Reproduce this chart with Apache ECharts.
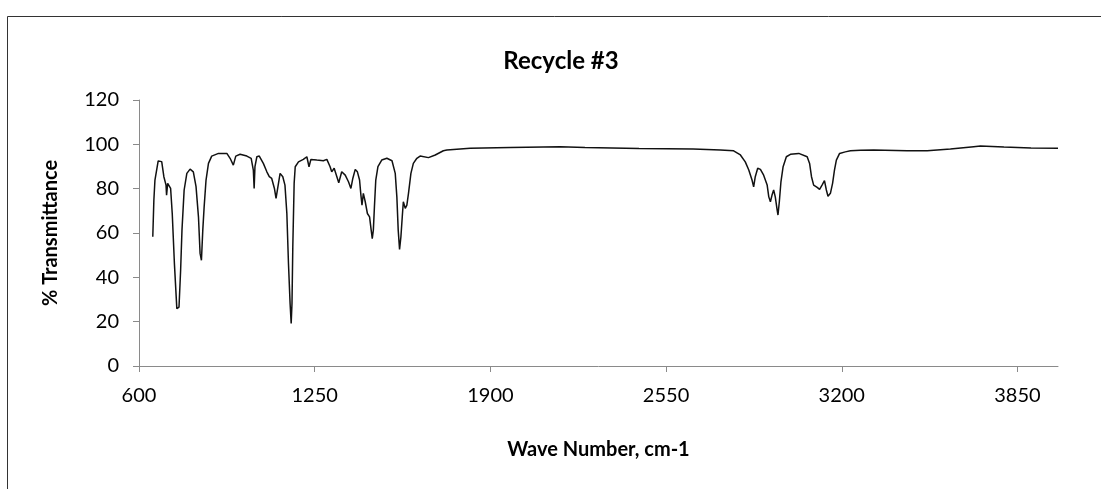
<!DOCTYPE html>
<html>
<head>
<meta charset="utf-8">
<script src="https://cdn.jsdelivr.net/npm/echarts@6/dist/echarts.min.js"></script>
<style>
  html, body { margin: 0; padding: 0; background: #fff; }
  #chart { width: 1101px; height: 489px; }
</style>
</head>
<body>
<div id="chart"></div>
<script>
// FTIR spectrum, wave number (cm-1) against % transmittance
const wavenumbers = [
  651, 655, 659, 671, 684, 692, 700, 702, 706, 717, 723, 731, 740, 748, 754, 759,
  767, 777, 789, 801, 811, 820, 826, 831, 836, 841, 848, 857, 869, 894, 925, 937,
  949, 958, 974, 999, 1015, 1023, 1026, 1029, 1036, 1045, 1060, 1073, 1082, 1091,
  1101, 1107, 1116, 1122, 1132, 1140, 1147, 1153, 1159, 1163, 1166, 1169, 1174,
  1178, 1190, 1208, 1221, 1229, 1236, 1258, 1282, 1295, 1307, 1313, 1322, 1332,
  1339, 1350, 1363, 1375, 1384, 1391, 1400, 1408, 1416, 1421, 1425, 1430, 1437,
  1445, 1453, 1459, 1463, 1467, 1471, 1476, 1484, 1498, 1517, 1536, 1548, 1554,
  1559, 1564, 1569, 1574, 1578, 1585, 1591, 1597, 1606, 1615, 1628, 1640, 1671,
  1696, 1726, 1739, 1825, 1973, 2158, 2250, 2350, 2450, 2550, 2650, 2751, 2800,
  2825, 2843, 2856, 2868, 2874, 2880, 2889, 2899, 2911, 2924, 2930, 2936, 2942,
  2948, 2954, 2961, 2964, 2969, 2975, 2983, 2995, 3010, 3041, 3072, 3081, 3088,
  3096, 3109, 3118, 3127, 3136, 3143, 3149, 3158, 3166, 3173, 3180, 3192, 3213,
  3232, 3269, 3318, 3442, 3516, 3602, 3688, 3713, 3800, 3900, 4000
];
const transmittance = [
  58.3, 74.8, 83.9, 92.5, 92.2, 85.4, 81.6, 77.1, 82.4, 80.1, 68.8, 46.2, 25.9, 26.6, 43.2, 61.3,
  79.4, 86.9, 88.8, 87.6, 80.9, 67.3, 50.8, 47.7, 61.3, 71.8, 83.9, 91.4, 94.7, 95.9, 95.9, 93.7,
  90.6, 94.7, 95.5, 94.7, 93.7, 88.4, 80.1, 89.9, 94.4, 94.7, 91.4, 87.6, 85.4, 84.6,
  80.1, 75.6, 82.4, 86.9, 85.4, 81.6, 68.8, 46.2, 28.2, 19.2, 28.2, 53.7, 82.4,
  89.9, 92.1, 93.2, 94.4, 89.9, 93.2, 92.9, 92.6, 93.2, 89.9, 87.6, 89.2, 85.4,
  82.7, 87.6, 86.1, 83.1, 80.1, 84.6, 88.7, 87.6, 83.9, 77.1, 72.6, 77.9, 74.1,
  68.8, 67.3, 61.3, 57.5, 61.3, 71.8, 83.9, 89.9, 92.9, 93.7, 92.6, 86.9, 76.3,
  61.3, 52.6, 58.3, 67.3, 74.1, 71.1, 72.6, 77.9, 86.9, 91.4, 93.7, 94.7, 94.0,
  95.2, 97.1, 97.4, 98.2, 98.6, 98.9, 98.6, 98.4, 98.1, 98.0, 97.9, 97.4, 97.1,
  95.2, 92.1, 88.4, 83.9, 80.8, 85.4, 89.2, 88.7, 86.1, 81.6, 76.3, 74.1, 77.1,
  79.4, 76.3, 70.3, 68.1, 74.1, 83.1, 89.9, 94.4, 95.5, 95.9, 94.4, 91.4, 85.4,
  81.6, 80.6, 79.7, 81.6, 83.6, 79.4, 76.6, 77.9, 82.4, 88.4, 92.9, 95.9, 96.6,
  97.1, 97.3, 97.4, 97.1, 97.1, 97.9, 98.9, 99.2, 98.8, 98.4, 98.2
];
const xTicks = [600, 1250, 1900, 2550, 3200, 3850];
const yTicks = [0, 20, 40, 60, 80, 100, 120];

const chartTitle = 'Recycle #3';
const xName = 'Wave Number, cm-1';
const yName = '% Transmittance';

const FONT = 'Lato, "Open Sans", sans-serif';
const points = wavenumbers.map((w, i) => [w, transmittance[i]]);

const chart = echarts.init(document.getElementById('chart'), null, { renderer: 'canvas' });
chart.setOption({
  backgroundColor: '#ffffff',
  animation: false,
  title: {
    text: chartTitle,
    left: 556,
    top: 44,
    textAlign: 'center',
    textStyle: { fontFamily: FONT, fontSize: 24, fontWeight: 'bold', color: '#000' }
  },
  graphic: [{
    type: 'rect',
    shape: { x: 7.5, y: 16.5, width: 1200, height: 600 },
    style: { fill: 'none', stroke: '#333', lineWidth: 1 },
    silent: true
  }],
  grid: { left: 139, top: 100, right: 43, bottom: 123 },
  xAxis: {
    type: 'value',
    min: 600,
    max: 4000,
    interval: 650,
    name: xName,
    nameLocation: 'middle',
    nameGap: 74,
    nameTextStyle: { fontFamily: FONT, fontSize: 20, fontWeight: 'bold', color: '#000' },
    axisLine: { show: true, lineStyle: { color: '#8a8a8a', width: 1 } },
    axisTick: { show: true, length: 6, inside: false, lineStyle: { color: '#8a8a8a' } },
    splitLine: { show: false },
    axisLabel: {
      fontFamily: FONT, fontSize: 20, color: '#000', margin: 20,
      showMaxLabel: false,
      formatter: v => (xTicks.indexOf(v) >= 0 ? String(v) : '')
    }
  },
  yAxis: {
    type: 'value',
    min: 0,
    max: 120,
    interval: 20,
    name: yName,
    nameLocation: 'middle',
    nameRotate: 90,
    nameGap: 78,
    nameTextStyle: { fontFamily: FONT, fontSize: 20, fontWeight: 'bold', color: '#000' },
    axisLine: { show: true, lineStyle: { color: '#8a8a8a', width: 1 } },
    axisTick: { show: true, length: 6, lineStyle: { color: '#8a8a8a' } },
    splitLine: { show: false },
    axisLabel: {
      fontFamily: FONT, fontSize: 20, color: '#000', margin: 20,
      formatter: v => (yTicks.indexOf(v) >= 0 ? String(v) : '')
    }
  },
  series: [{
    type: 'line',
    data: points,
    showSymbol: false,
    smooth: false,
    lineStyle: { color: '#111', width: 1.5 }
  }]
});
</script>
</body>
</html>
